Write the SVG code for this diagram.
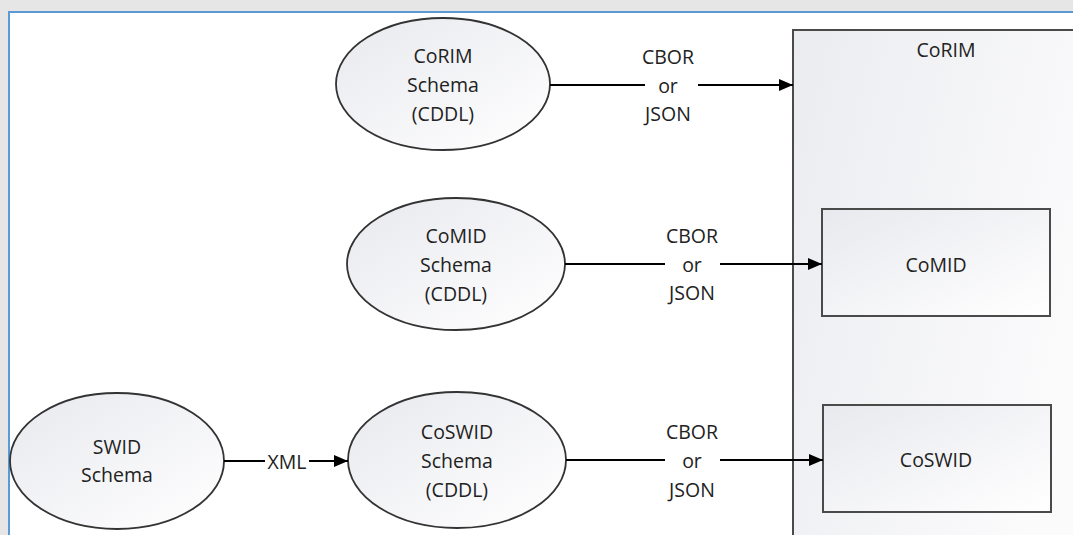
<svg xmlns="http://www.w3.org/2000/svg" width="1073" height="535" viewBox="0 0 1073 535">
<style>
.shape{stroke:#333;stroke-width:1.8}
.box{stroke:#4a4a4a;stroke-width:2}
.conn{stroke:#000;stroke-width:2;fill:none}
text{font-family:"Open Sans","Liberation Sans",sans-serif;font-size:19.5px;fill:#222;text-anchor:middle;dominant-baseline:central}
</style>
<defs>
<linearGradient id="g" x1="0" y1="0" x2="1" y2="1">
<stop offset="0" stop-color="#e8e9ee"/>
<stop offset="1" stop-color="#ffffff"/>
</linearGradient>
<linearGradient id="gb" x1="0" y1="0" x2="1" y2="0.4">
<stop offset="0" stop-color="#ebecf0"/>
<stop offset="1" stop-color="#fbfbfc"/>
</linearGradient>
<marker id="a" viewBox="0 0 14 12" refX="14" refY="6" markerWidth="14" markerHeight="12" markerUnits="userSpaceOnUse" orient="auto">
<path d="M0,0 L14,6 L0,12 z" fill="#000"/>
</marker>
</defs>
<rect x="0" y="0" width="1073" height="535" fill="#e6e6e6"/>
<rect x="9" y="12" width="1070" height="530" fill="#ffffff" stroke="#5b9bd5" stroke-width="2"/>

<g id="corim">
<rect x="793" y="30" width="300" height="520" fill="url(#gb)" class="box"/>
<text x="946" y="49">CoRIM</text>
</g>
<g id="comid">
<rect x="822" y="209" width="228" height="107" fill="url(#g)" class="box"/>
<text x="936" y="264">CoMID</text>
</g>
<g id="coswid">
<rect x="823" y="405" width="228" height="107" fill="url(#g)" class="box"/>
<text x="936" y="459">CoSWID</text>
</g>
<g id="corim-schema">
<ellipse cx="443" cy="84" rx="107" ry="66" fill="url(#g)" class="shape"/>
<text x="443" y="55">CoRIM</text>
<text x="443" y="84">Schema</text>
<text x="443" y="113">(CDDL)</text>
</g>
<g id="comid-schema">
<ellipse cx="456" cy="264" rx="109" ry="66" fill="url(#g)" class="shape"/>
<text x="456" y="235">CoMID</text>
<text x="456" y="264">Schema</text>
<text x="456" y="293">(CDDL)</text>
</g>
<g id="swid-schema">
<ellipse cx="117" cy="461" rx="107" ry="68" fill="url(#g)" class="shape"/>
<text x="117" y="446">SWID</text>
<text x="117" y="474">Schema</text>
</g>
<g id="coswid-schema">
<ellipse cx="457" cy="460" rx="109" ry="68" fill="url(#g)" class="shape"/>
<text x="457" y="431">CoSWID</text>
<text x="457" y="460">Schema</text>
<text x="457" y="489">(CDDL)</text>
</g>

<g id="connectors">
<line x1="550" y1="85" x2="645" y2="85" class="conn"/>
<line x1="698" y1="85" x2="793" y2="85" class="conn" marker-end="url(#a)"/>
<text x="668" y="56">CBOR</text>
<text x="668" y="85">or</text>
<text x="668" y="113">JSON</text>

<line x1="565" y1="264" x2="665" y2="264" class="conn"/>
<line x1="720" y1="264" x2="822" y2="264" class="conn" marker-end="url(#a)"/>
<text x="692" y="235">CBOR</text>
<text x="692" y="264">or</text>
<text x="692" y="292">JSON</text>

<line x1="566" y1="460" x2="665" y2="460" class="conn"/>
<line x1="720" y1="460" x2="823" y2="460" class="conn" marker-end="url(#a)"/>
<text x="692" y="431">CBOR</text>
<text x="692" y="460">or</text>
<text x="692" y="489">JSON</text>

<line x1="224" y1="461" x2="265" y2="461" class="conn"/>
<line x1="309" y1="461" x2="348" y2="461" class="conn" marker-end="url(#a)"/>
<text x="287" y="461">XML</text>
</g>
</svg>
